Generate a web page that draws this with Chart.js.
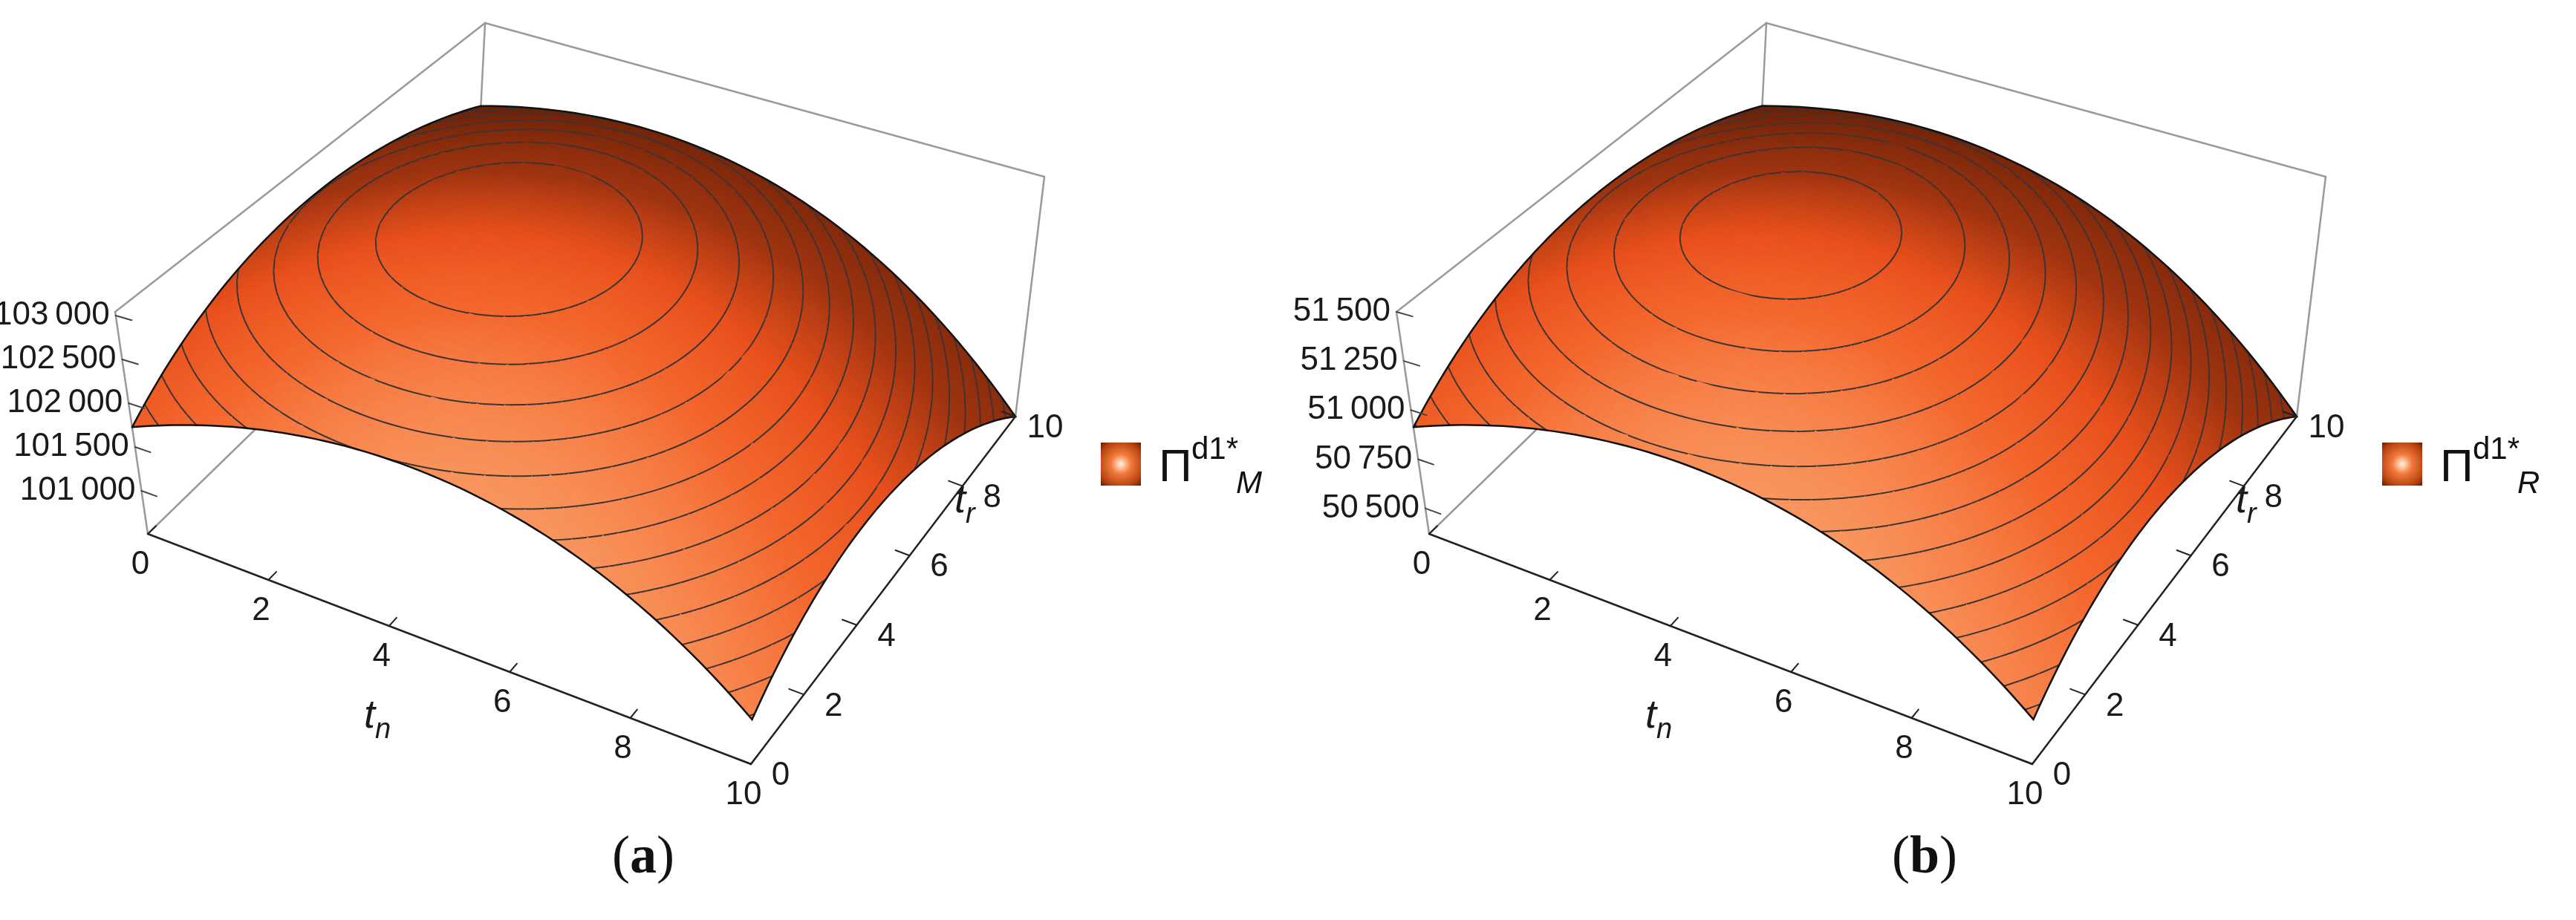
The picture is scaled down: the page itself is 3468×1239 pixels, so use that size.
<!DOCTYPE html>
<html>
<head>
<meta charset="utf-8">
<script src="https://cdn.jsdelivr.net/npm/chart.js@4/dist/chart.umd.min.js"></script>
<style>
  body { margin: 0; background: #fff; }
  .wrap { display: flex; width: 3468px; height: 1239px; }
  canvas { display: block; }
</style>
</head>
<body>
<div class="wrap">
  <canvas id="chartA" width="1734" height="1239"></canvas>
  <canvas id="chartB" width="1734" height="1239"></canvas>
</div>
<script>
// grid axes (t_n along columns, t_r along rows)
const tnValues = [0, 2, 4, 6, 8, 10];
const trValues = [0, 2, 4, 6, 8, 10];
const axisTicks = [0, 2, 4, 6, 8, 10];

// Π_M surface, one row per t_r value
const surfaceM = [
  [101726, 102163, 102302, 102142, 101684, 100927],
  [102249, 102661, 102774, 102589, 102104, 101321],
  [102533, 102920, 103007, 102796, 102286, 101477],
  [102578, 102939, 103001, 102764, 102228, 101393],
  [102384, 102719, 102755, 102492, 101931, 101070],
  [101950, 102260, 102270, 101982, 101394, 100508]
];
const zRangeM = [100508, 103043];
const zTicksM = [101000, 101500, 102000, 102500, 103000];

// Π_R surface
const surfaceR = [
  [50913, 51108, 51170, 51098, 50894, 50557],
  [51146, 51330, 51380, 51298, 51081, 50732],
  [51273, 51445, 51484, 51390, 51162, 50802],
  [51293, 51454, 51481, 51376, 51137, 50764],
  [51206, 51355, 51372, 51254, 51004, 50621],
  [51013, 51151, 51155, 51027, 50765, 50370]
];
const zRangeR = [50370, 51500];
const zTicksR = [50500, 50750, 51000, 51250, 51500];

// projected box corners (canvas space): B = floor, T = top; key = tn,tr
const BOX = {
  B00: [199, 719], B10: [1011, 1029], B11: [1367, 561], B01: [640, 290],
  T00: [155, 420], T10: [1020, 666], T11: [1406, 238], T01: [653, 31]
};

function fmt(v) {
  const s = String(v);
  return s.slice(0, s.length - 3) + '\u2009' + s.slice(-3);
}

// Catmull-Rom through the grid, ghost points by quadratic extrapolation
function makeSampler(grid) {
  const n = grid.length;
  const g = (r, c) => {
    if (c < 0) return 3 * g(r, 0) - 3 * g(r, 1) + g(r, 2);
    if (c > n - 1) return 3 * g(r, n - 1) - 3 * g(r, n - 2) + g(r, n - 3);
    if (r < 0) return 3 * g(0, c) - 3 * g(1, c) + g(2, c);
    if (r > n - 1) return 3 * g(n - 1, c) - 3 * g(n - 2, c) + g(n - 3, c);
    return grid[r][c];
  };
  const cr = (p0, p1, p2, p3, t) =>
    0.5 * (2 * p1 + (-p0 + p2) * t + (2 * p0 - 5 * p1 + 4 * p2 - p3) * t * t + (-p0 + 3 * p1 - 3 * p2 + p3) * t * t * t);
  const step = tnValues[1] - tnValues[0];
  return (tn, tr) => {
    const u = tn / step, v = tr / step;
    const i = Math.min(Math.floor(u), n - 2), j = Math.min(Math.floor(v), n - 2);
    const fu = u - i, fv = v - j;
    const rows = [];
    for (let r = j - 1; r <= j + 2; r++) {
      rows.push(cr(g(r, i - 1), g(r, i), g(r, i + 1), g(r, i + 2), fu));
    }
    return cr(rows[0], rows[1], rows[2], rows[3], fv);
  };
}

function lerp(a, b, t) { return [a[0] + (b[0] - a[0]) * t, a[1] + (b[1] - a[1]) * t]; }

function mixColor(i) {
  const stops = [
    [-0.2, [100, 32, 8]], [0.25, [160, 52, 16]], [0.5, [232, 80, 28]],
    [0.7, [244, 104, 46]], [0.95, [250, 160, 106]]
  ];
  if (i <= stops[0][0]) return stops[0][1];
  for (let k = 1; k < stops.length; k++) {
    if (i <= stops[k][0]) {
      const t = (i - stops[k - 1][0]) / (stops[k][0] - stops[k - 1][0]);
      return stops[k - 1][1].map((c, m) => c + (stops[k][1][m] - c) * t);
    }
  }
  return stops[stops.length - 1][1];
}

function surfacePlugin(cfg) {
  return {
    id: 'surface3d',
    afterDatasetsDraw(chart) {
      const ctx = chart.ctx;
      const sx = chart.scales.x, sy = chart.scales.y;
      const dx = cfg.dx;
      const px = p => [sx.getPixelForValue(p[0] + dx), sy.getPixelForValue(p[1])];
      const zr = cfg.zRange;
      const tnMax = tnValues[tnValues.length - 1], trMax = trValues[trValues.length - 1];
      const proj = (tn, tr, z) => {
        const s = tn / tnMax, t = tr / trMax, f = (z - zr[0]) / (zr[1] - zr[0]);
        const b = lerp(lerp(BOX.B00, BOX.B10, s), lerp(BOX.B01, BOX.B11, s), t);
        const tp = lerp(lerp(BOX.T00, BOX.T10, s), lerp(BOX.T01, BOX.T11, s), t);
        return px(lerp(b, tp, f));
      };
      const Z = makeSampler(cfg.surface);

      ctx.save();
      ctx.lineCap = 'round';
      const edge = (a, b, col, w) => {
        const p = px(a), q = px(b);
        ctx.strokeStyle = col; ctx.lineWidth = w;
        ctx.beginPath(); ctx.moveTo(p[0], p[1]); ctx.lineTo(q[0], q[1]); ctx.stroke();
      };
      const grey = '#9a9a9a';
      edge(BOX.B00, BOX.T00, grey, 2.5);
      edge(BOX.B01, BOX.T01, grey, 2.5);
      edge(BOX.B11, BOX.T11, grey, 2.5);
      edge(BOX.T00, BOX.T01, grey, 2.5);
      edge(BOX.T01, BOX.T11, grey, 2.5);
      edge(BOX.B00, BOX.B01, grey, 2.5);
      edge(BOX.B01, BOX.B11, grey, 2.5);

      // surface cells, far to near
      const N = 60;
      const cells = [];
      for (let j = 0; j < N; j++) {
        for (let i = 0; i < N; i++) {
          const s = (i + 0.5) / N, t = (j + 0.5) / N;
          const depth = lerp(lerp(BOX.B00, BOX.B10, s), lerp(BOX.B01, BOX.B11, s), t)[1];
          cells.push([i, j, depth]);
        }
      }
      cells.sort((a, b) => a[2] - b[2]);
      const L = [0.3, -0.8, 0.45];
      const Ll = Math.hypot(...L);
      const k = 0.6;
      const levels = [];
      for (let z = Math.ceil(zr[0] / cfg.step) * cfg.step; z < zr[1]; z += cfg.step) levels.push(z);

      cells.forEach(([i, j]) => {
        const tn0 = i / N * tnMax, tn1 = (i + 1) / N * tnMax;
        const tr0 = j / N * trMax, tr1 = (j + 1) / N * trMax;
        const z00 = Z(tn0, tr0), z10 = Z(tn1, tr0), z11 = Z(tn1, tr1), z01 = Z(tn0, tr1);
        const span = zr[1] - zr[0];
        const fs = ((z10 + z11) - (z00 + z01)) / 2 / span * N;
        const ft = ((z01 + z11) - (z00 + z10)) / 2 / span * N;
        const n = [-fs * k, -ft * k, 1];
        const nl = Math.hypot(...n);
        const ill = (n[0] * L[0] + n[1] * L[1] + n[2] * L[2]) / (nl * Ll);
        const c = mixColor(ill).map(Math.round);
        const col = `rgb(${c[0]},${c[1]},${c[2]})`;
        const p = [proj(tn0, tr0, z00), proj(tn1, tr0, z10), proj(tn1, tr1, z11), proj(tn0, tr1, z01)];
        ctx.fillStyle = col; ctx.strokeStyle = col; ctx.lineWidth = 1.2;
        ctx.beginPath();
        ctx.moveTo(p[0][0], p[0][1]);
        for (let m = 1; m < 4; m++) ctx.lineTo(p[m][0], p[m][1]);
        ctx.closePath(); ctx.fill(); ctx.stroke();

        // contour segments inside this cell
        const corners = [[tn0, tr0, z00], [tn1, tr0, z10], [tn1, tr1, z11], [tn0, tr1, z01]];
        ctx.strokeStyle = '#3b3434'; ctx.lineWidth = 2;
        levels.forEach(lv => {
          const pts = [];
          for (let m = 0; m < 4; m++) {
            const a = corners[m], b = corners[(m + 1) % 4];
            if ((a[2] - lv) * (b[2] - lv) < 0) {
              const t = (lv - a[2]) / (b[2] - a[2]);
              pts.push(proj(a[0] + (b[0] - a[0]) * t, a[1] + (b[1] - a[1]) * t, lv));
            }
          }
          if (pts.length >= 2) {
            ctx.beginPath();
            ctx.moveTo(pts[0][0], pts[0][1]); ctx.lineTo(pts[1][0], pts[1][1]);
            if (pts.length === 4) { ctx.moveTo(pts[2][0], pts[2][1]); ctx.lineTo(pts[3][0], pts[3][1]); }
            ctx.stroke();
          }
        });
      });

      // surface boundary
      ctx.strokeStyle = '#111'; ctx.lineWidth = 2.5;
      const boundary = [];
      for (let m = 0; m <= N; m++) boundary.push([m / N * tnMax, 0]);
      for (let m = 1; m <= N; m++) boundary.push([tnMax, m / N * trMax]);
      for (let m = N - 1; m >= 0; m--) boundary.push([m / N * tnMax, trMax]);
      for (let m = N - 1; m >= 0; m--) boundary.push([0, m / N * trMax]);
      ctx.beginPath();
      boundary.forEach((q, m) => {
        const p = proj(q[0], q[1], Z(q[0], q[1]));
        if (m === 0) ctx.moveTo(p[0], p[1]); else ctx.lineTo(p[0], p[1]);
      });
      ctx.stroke();

      // floor axes
      edge(BOX.B00, BOX.B10, '#222', 2.5);
      edge(BOX.B10, BOX.B11, '#222', 2.5);
      ctx.fillStyle = '#1a1a1a';
      ctx.font = '44px "Liberation Sans", Arial, sans-serif';
      ctx.textAlign = 'center'; ctx.textBaseline = 'middle';
      axisTicks.forEach(v => {
        const p = proj(v, 0, zr[0]), q = proj(v, 0.25, zr[0]);
        ctx.strokeStyle = '#222'; ctx.lineWidth = 2;
        ctx.beginPath(); ctx.moveTo(p[0], p[1]); ctx.lineTo(q[0], q[1]); ctx.stroke();
        ctx.fillText(String(v), p[0] - 10, p[1] + 42);
      });
      axisTicks.forEach(v => {
        const p = proj(tnMax, v, zr[0]), q = proj(tnMax - 0.25, v, zr[0]);
        ctx.strokeStyle = '#222'; ctx.lineWidth = 2;
        ctx.beginPath(); ctx.moveTo(p[0], p[1]); ctx.lineTo(q[0], q[1]); ctx.stroke();
        ctx.fillText(String(v), p[0] + 40, p[1] + 16);
      });
      ctx.textAlign = 'right';
      cfg.zTicks.forEach(v => {
        const p = proj(0, 0, v), q = proj(0.25, 0, v);
        ctx.strokeStyle = '#444'; ctx.lineWidth = 2;
        ctx.beginPath(); ctx.moveTo(p[0], p[1]); ctx.lineTo(q[0], q[1]); ctx.stroke();
        ctx.fillText(fmt(v), p[0] - 8, p[1]);
      });

      // axis titles
      const italic = 'italic 54px "Liberation Sans", Arial, sans-serif';
      const sub = 'italic 38px "Liberation Sans", Arial, sans-serif';
      const title = (pos, main, s) => {
        const p = px(pos);
        ctx.textAlign = 'left'; ctx.textBaseline = 'alphabetic';
        ctx.font = italic; ctx.fillText(main, p[0], p[1]);
        const w = ctx.measureText(main).width;
        ctx.font = sub; ctx.fillText(s, p[0] + w, p[1] + 14);
      };
      title([490, 980], 't', 'n');
      title([1285, 690], 't', 'r');

      // legend swatch
      const sw = px([1482, 596]);
      const grad = ctx.createRadialGradient(sw[0] + 27, sw[1] + 29, 2, sw[0] + 27, sw[1] + 29, 40);
      grad.addColorStop(0, '#ffe3c8');
      grad.addColorStop(0.3, '#f27a3c');
      grad.addColorStop(0.75, '#b8420f');
      grad.addColorStop(1, '#5a1c05');
      ctx.fillStyle = grad;
      ctx.fillRect(sw[0], sw[1], 54, 58);
      ctx.fillStyle = '#111';
      ctx.textAlign = 'left'; ctx.textBaseline = 'alphabetic';
      ctx.font = '62px "Liberation Sans", Arial, sans-serif';
      ctx.fillText('\u03A0', sw[0] + 78, sw[1] + 52);
      ctx.font = '42px "Liberation Sans", Arial, sans-serif';
      ctx.fillText('d1*', sw[0] + 122, sw[1] + 22);
      ctx.font = 'italic 42px "Liberation Sans", Arial, sans-serif';
      ctx.fillText(cfg.sub, sw[0] + 182, sw[1] + 68);

      // panel tag
      const tg = px([866, 1175]);
      const F = 72;
      ctx.font = `${F}px "Liberation Serif", serif`;
      const wl = ctx.measureText('(').width;
      ctx.font = `bold ${F}px "Liberation Serif", serif`;
      const wa = ctx.measureText(cfg.tag).width;
      ctx.font = `${F}px "Liberation Serif", serif`;
      ctx.fillText('(', tg[0] - wa / 2 - wl, tg[1]);
      ctx.fillText(')', tg[0] + wa / 2, tg[1]);
      ctx.font = `bold ${F}px "Liberation Serif", serif`;
      ctx.fillText(cfg.tag, tg[0] - wa / 2, tg[1]);
      ctx.restore();
    }
  };
}

function buildPanel(id, cfg) {
  const ctx = document.getElementById(id).getContext('2d');
  return new Chart(ctx, {
    type: 'scatter',
    data: { datasets: [{ data: [] }] },
    options: {
      responsive: false,
      devicePixelRatio: 1,
      animation: false,
      layout: { padding: 0 },
      plugins: { legend: { display: false }, tooltip: { enabled: false } },
      scales: {
        x: { type: 'linear', min: 0, max: 1734, display: false },
        y: { type: 'linear', min: 0, max: 1239, reverse: true, display: false }
      }
    },
    plugins: [surfacePlugin(cfg)]
  });
}

buildPanel('chartA', { surface: surfaceM, zRange: zRangeM, zTicks: zTicksM, step: 150, sub: 'M', tag: 'a', dx: 0 });
buildPanel('chartB', { surface: surfaceR, zRange: zRangeR, zTicks: zTicksR, step: 67, sub: 'R', tag: 'b', dx: -9 });
</script>
</body>
</html>
